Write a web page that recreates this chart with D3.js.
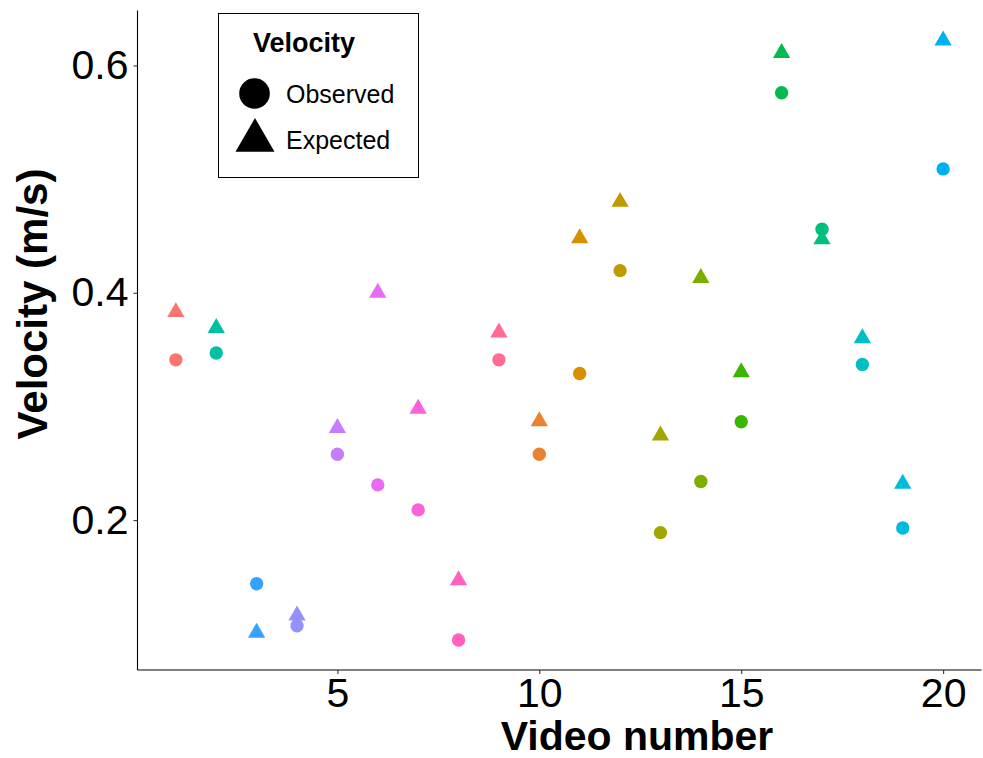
<!DOCTYPE html>
<html>
<head>
<meta charset="utf-8">
<script src="https://cdn.jsdelivr.net/npm/d3@7"></script>
<style>
  html, body { margin: 0; padding: 0; background: #fff; }
  svg { display: block; font-family: "Liberation Sans", Arial, Helvetica, sans-serif; }
</style>
</head>
<body>
<svg id="chart" width="983" height="758"></svg>
<script>
// ---- data ----
const videos = [1,2,3,4,5,6,7,8,9,10,11,12,13,14,15,16,17,18,19,20];
const observed = [0.341, 0.347, 0.144, 0.107, 0.258, 0.231, 0.209, 0.0945, 0.341, 0.258,
                  0.329, 0.4195, 0.189, 0.234, 0.2865, 0.576, 0.456, 0.337, 0.193, 0.509];
const expected = [0.383, 0.369, 0.101, 0.116, 0.281, 0.400, 0.298, 0.147, 0.365, 0.287,
                  0.448, 0.480, 0.2745, 0.413, 0.330, 0.611, 0.447, 0.360, 0.232, 0.622];
const videoColors = ["#F8766D","#00C1A3","#35A2FF","#9590FF","#C77CFF","#E76BF3","#FA62DB","#FF62BC","#FF6C91","#EA8331",
                     "#D89000","#C09B00","#A3A500","#7CAE00","#39B600","#00BB4E","#00BF7D","#00BFC4","#00BAE0","#00B0F6"];
const xTicks = [5, 10, 15, 20];
const yTicks = [0.2, 0.4, 0.6];
const legendLabels = ["Observed", "Expected"];
const legendTitle = "Velocity";
const xTitle = "Video number";
const yTitle = "Velocity (m/s)";

// ---- layout ----
const panel = { left: 137.5, right: 981.5, top: 10.5, bottom: 670 };
const svg = d3.select("#chart");

const xExt = d3.extent(videos);
const xPad = (xExt[1] - xExt[0]) * 0.05;
const x = d3.scaleLinear().domain([xExt[0] - xPad, xExt[1] + xPad]).range([panel.left, panel.right]);

const allY = observed.concat(expected);
const yExt = d3.extent(allY);
const yPad = (yExt[1] - yExt[0]) * 0.05;
const y = d3.scaleLinear().domain([yExt[0] - yPad, yExt[1] + yPad]).range([panel.bottom, panel.top]);

// axes
const xAxis = svg.append("g")
  .attr("transform", `translate(0,${panel.bottom})`)
  .call(d3.axisBottom(x).tickValues(xTicks).tickSize(4).tickPadding(4).tickSizeOuter(0));
const yAxis = svg.append("g")
  .attr("transform", `translate(${panel.left},0)`)
  .call(d3.axisLeft(y).tickValues(yTicks).tickFormat(d3.format(".1f")).tickSize(4).tickPadding(5).tickSizeOuter(0));

[xAxis, yAxis].forEach(g => {
  g.select(".domain").attr("stroke", "#000").attr("stroke-width", 1.1);
  g.selectAll(".tick line").attr("stroke", "#333").attr("stroke-width", 1.1);
  g.selectAll(".tick text").attr("fill", "#000")
    .style("font-size", "41px").style("font-family", "'Liberation Sans', Arial, sans-serif");
});

xAxis.select(".domain").attr("d", `M${panel.left},0H${panel.right}`);
yAxis.select(".domain").attr("d", `M0,${panel.bottom}V${panel.top}`);

// axis titles
svg.append("text")
  .attr("x", 637).attr("y", 750)
  .attr("text-anchor", "middle")
  .style("font-size", "41px").style("font-weight", "bold").attr("fill", "#000")
  .text(xTitle);

svg.append("text")
  .attr("transform", `translate(47,304) rotate(-90)`)
  .attr("text-anchor", "middle")
  .style("font-size", "42px").style("font-weight", "bold").attr("fill", "#000")
  .text(yTitle);

// triangle path centered at centroid
function triPath(side) {
  const h = side * Math.sqrt(3) / 2;
  return `M0,${-2 * h / 3}L${side / 2},${h / 3}L${-side / 2},${h / 3}Z`;
}

const pts = svg.append("g");
pts.selectAll("path.exp")
  .data(videos)
  .join("path")
  .attr("class", "exp")
  .attr("d", triPath(17.3))
  .attr("transform", (d, i) => `translate(${x(d)},${y(expected[i])})`)
  .attr("fill", (d, i) => videoColors[i]);
pts.selectAll("circle.obs")
  .data(videos)
  .join("circle")
  .attr("class", "obs")
  .attr("cx", d => x(d))
  .attr("cy", (d, i) => y(observed[i]))
  .attr("r", 6.7)
  .attr("fill", (d, i) => videoColors[i]);

// legend
const lg = svg.append("g");
lg.append("rect")
  .attr("x", 218.5).attr("y", 13.5).attr("width", 200).attr("height", 164)
  .attr("fill", "#fff").attr("stroke", "#000").attr("stroke-width", 1);
lg.append("text")
  .attr("x", 253).attr("y", 52)
  .style("font-size", "27px").style("font-weight", "bold").attr("fill", "#000")
  .text(legendTitle);
lg.append("circle").attr("cx", 254.5).attr("cy", 93.5).attr("r", 15.3).attr("fill", "#000");
lg.append("path").attr("d", triPath(39)).attr("transform", "translate(255,140.5)").attr("fill", "#000");
lg.selectAll("text.lab")
  .data(legendLabels)
  .join("text")
  .attr("class", "lab")
  .attr("x", 286)
  .attr("y", (d, i) => i === 0 ? 103 : 149)
  .style("font-size", "25px").attr("fill", "#000")
  .text(d => d);
</script>
</body>
</html>
